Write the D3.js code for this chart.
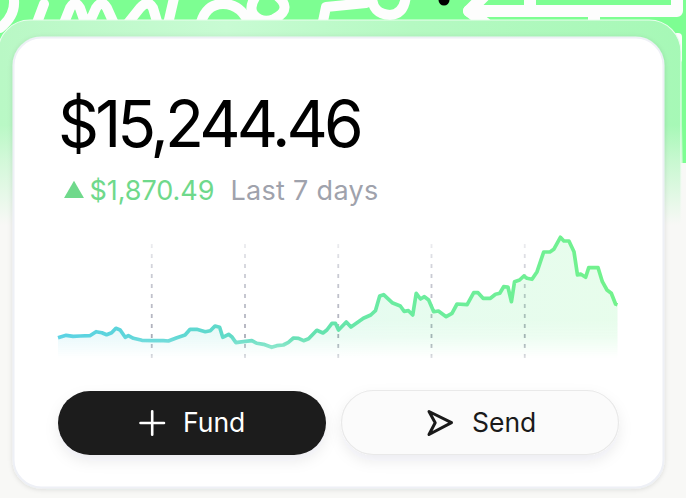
<!DOCTYPE html>
<html><head><meta charset="utf-8">
<script src="https://cdn.jsdelivr.net/npm/d3@7"></script>
<style>html,body{margin:0;padding:0;background:#f8f8f6;overflow:hidden}svg{display:block}text{font-family:Inter,"Noto Sans",sans-serif}</style>
</head><body><div id="chart"></div>
<script>
const hours=[0,2.1,3.9,5.7,8.2,9.8,11.3,12.5,13.8,14.9,16,17.3,18.1,19.4,21.6,24.5,27.1,28.4,30.6,32.7,34,35.7,37.9,39.2,40.4,41.6,42.4,43.9,44.7,45.8,47.7,49.9,51.2,52.9,55,56.3,58,59.3,60.6,61.9,63.2,64.5,66.6,68.2,69.2,70.5,71.4,72.2,74.2,75.4,78.6,80.5,81.7,82.8,83.8,86,88.1,89.1,90.2,91.3,92.2,93.3,94.3,95.4,96.7,97.9,99.9,101.4,102.7,105.3,107,108.1,109.4,111.3,112.6,113.7,114.7,115.8,116.7,117.5,118.8,119.9,120.7,122,123.3,125,126.6,127.6,129.3,130.2,131.5,132.8,133.7,134.5,135.8,136.6,139,140.1,141.3,142.4,143.5,144];
const balances=[13374,13510,13453,13470,13487,13714,13657,13544,13657,13907,13810,13397,13487,13340,13227,13204,13204,13187,13374,13527,13850,13850,13714,13771,14037,13963,13397,13567,13431,13091,13147,13204,13057,13000,12830,12921,12960,13113,13357,13340,13204,13317,13793,13640,13810,14190,14190,13810,14264,13980,14473,14660,14904,15737,15811,15357,15170,14870,14904,14660,15890,15567,15697,15510,14847,14887,14564,14757,15284,15244,15924,15924,15607,15607,15833,15890,16264,16247,15414,16548,16644,16870,16740,16684,17114,18230,18230,18384,19064,18854,18854,18248,16927,16984,16797,17341,17341,16547,16077,15890,15284,15244];
const dayTicks=[24,48,72,96,120];
const balanceLabel="$15,244.46", changeLabel="$1,870.49", periodLabel="Last 7 days";
const fundLabel="Fund", sendLabel="Send";

const W=686,H=498;
const svg=d3.select("#chart").append("svg").attr("width",W).attr("height",H).attr("viewBox",`0 0 ${W} ${H}`);
const defs=svg.append("defs");
const grad=(id,attrs,stops)=>{const g=defs.append("linearGradient").attr("id",id).attr("gradientUnits","userSpaceOnUse");
  Object.entries(attrs).forEach(([k,v])=>g.attr(k,v));
  stops.forEach(s=>g.append("stop").attr("offset",s[0]).attr("stop-color",s[1]).attr("stop-opacity",s[2]===undefined?1:s[2]));};
grad("rim",{x1:0,y1:0,x2:686,y2:0},[[0,"#b9f8c5"],[.33,"#c8fbd3"],[.6,"#b5f9c2"],[1,"#a6f8b6"]]);
grad("rimFade",{x1:0,y1:125,x2:0,y2:225},[[0,"#f8f8f6",0],[.35,"#f8f8f6",.4],[1,"#f8f8f6",1]]);
grad("lineCol",{x1:58,y1:0,x2:618,y2:0},[[0,"#5ad2e4"],[.25,"#5fd8d0"],[.42,"#62dfb4"],[.6,"#6becA0"],[1,"#72f28c"]]);
grad("gridCol",{x1:0,y1:-121,x2:0,y2:0},[[0,"#b4b6c2",.15],[.3,"#b4b6c2",.7],[.85,"#a8aab6",1],[1,"#a8aab6",.4]]);
grad("fadeMask",{x1:0,y1:320,x2:0,y2:358},[[0,"#fff"],[.45,"#bbb"],[1,"#000"]]);
defs.append("mask").attr("id","fade").attr("maskUnits","userSpaceOnUse").attr("x",0).attr("y",0).attr("width",W).attr("height",H)
  .append("rect").attr("width",W).attr("height",H).attr("fill","url(#fadeMask)");
const lm=defs.append("mask").attr("id","lineFade").attr("maskUnits","userSpaceOnUse").attr("x",0).attr("y",0).attr("width",W).attr("height",H);
grad("lineFadeG",{x1:0,y1:336,x2:0,y2:352},[[0,"#fff"],[1,"#999"]]);
lm.append("rect").attr("width",W).attr("height",H).attr("fill","url(#lineFadeG)");
const shadow=(id,dy,sd,op)=>{const f=defs.append("filter").attr("id",id).attr("x","-20%").attr("y","-40%").attr("width","140%").attr("height","200%");
  f.append("feDropShadow").attr("dx",0).attr("dy",dy).attr("stdDeviation",sd).attr("flood-color","#1a2a33").attr("flood-opacity",op);};
shadow("cardSh",1,2.5,.12);shadow("btnSh",6,7,.08);

// background
svg.append("rect").attr("width",W).attr("height",H).attr("fill","#f8f8f6");
svg.append("rect").attr("width",W).attr("height",163).attr("fill","#7dfe92");
const deco=svg.append("g").attr("fill","none").attr("stroke","#fdfdfd").attr("stroke-width",10).attr("stroke-linecap","round").attr("stroke-linejoin","round");
["M13,-6Q18,14 0,28",
 "M44,4L35,28",
 "M62,28L70,8Q75,-1 80,8L87,28M87,28L96,8Q102,-1 107,8L116,28",
 "M124,28L140,8Q148,-1 153,8L159,28",
 "M174,-2L168,24",
 "M200,26Q205,4 223,4Q242,4 250,26",
 "M272,-8Q296,8 274,19Q262,24 254,15Q248,8 256,-4",
 "M322,26L326,7L366,3",
 "M372,-4Q372,14 390,15Q405,14 406,-6"
].forEach(d=>deco.append("path").attr("d",d));
const deco2=svg.append("g").attr("fill","none").attr("stroke","#fdfdfd").attr("stroke-width",12).attr("stroke-linecap","round").attr("stroke-linejoin","round");
["M488,-8L469,11L486,24",
 "M469,11L677,11L677,-6",
 "M530,11L530,-6",
 "M594,11L594,26"
].forEach(d=>deco2.append("path").attr("d",d));
svg.append("circle").attr("cx",444).attr("cy",0).attr("r",5.5).attr("fill","#000");
svg.append("rect").attr("x",673).attr("y",33).attr("width",9).attr("height",30).attr("rx",4).attr("fill","#fdfdfd");

// frame + card
svg.append("rect").attr("x",-2).attr("y",20).attr("width",683).attr("height",480).attr("rx",32)
  .attr("fill","url(#rim)").attr("stroke","#e9fdee").attr("stroke-width",1.2);
svg.append("rect").attr("x",-3).attr("y",120).attr("width",686).attr("height",380).attr("fill","url(#rimFade)");
svg.append("rect").attr("x",13.5).attr("y",37.5).attr("width",650).attr("height",450).attr("rx",28)
  .attr("fill","#fff").attr("stroke","#eef0f6").attr("stroke-width",2).attr("filter","url(#cardSh)");

// header text
svg.append("text").attr("x",58).attr("y",147).attr("font-size",64).attr("font-weight",400).attr("letter-spacing",-3.9).attr("fill","#000").text(balanceLabel);
svg.append("path").attr("d",d3.symbol(d3.symbolTriangle,172)()).attr("transform","translate(74,192.3)").attr("fill","#6fd98b");
svg.append("text").attr("x",89.5).attr("y",200).attr("font-size",27).attr("letter-spacing",-.05).attr("fill","#6fd98b").text(changeLabel);
svg.append("text").attr("x",230.5).attr("y",200).attr("font-size",27).attr("letter-spacing",.3).attr("fill","#9fa2ac").text(periodLabel);

// chart
const x=d3.scaleLinear().domain([0,144]).range([58,617.5]);
const y=d3.scaleLinear().domain([13374,15244]).range([337.7,304.7]);
const bottom=357;
const pts=hours.map((h,i)=>[h,balances[i]]);
const axis=d3.axisBottom(x).tickValues(dayTicks).tickSize(-120).tickFormat("");
const ax=svg.append("g").attr("transform",`translate(0,${bottom+1})`).call(axis);
ax.select(".domain").remove();
ax.selectAll("line").attr("stroke","url(#gridCol)").attr("stroke-width",1.8).attr("stroke-dasharray","4 6");
svg.append("path").datum(pts).attr("mask","url(#fade)").attr("fill","url(#lineCol)").attr("fill-opacity",.17)
  .attr("d",d3.area().x(d=>x(d[0])).y0(bottom+1).y1(d=>y(d[1])));
svg.append("path").datum(pts).attr("mask","url(#lineFade)").attr("fill","none").attr("stroke","url(#lineCol)").attr("stroke-width",3.7).attr("stroke-linejoin","round")
  .attr("d",d3.line().x(d=>x(d[0])).y(d=>y(d[1])));

// buttons
svg.append("rect").attr("x",58).attr("y",391).attr("width",268).attr("height",64).attr("rx",32).attr("fill","#1a1a1a").attr("filter","url(#btnSh)");
svg.append("path").attr("d","M140.5,423H164M152.2,411.2V434.8").attr("stroke","#fff").attr("stroke-width",2.6).attr("stroke-linecap","round").attr("fill","none");
svg.append("text").attr("x",183).attr("y",432).attr("font-size",26.5).attr("fill","#fff").text(fundLabel);
svg.append("rect").attr("x",341.5).attr("y",390.5).attr("width",277).attr("height",64).attr("rx",32).attr("fill","#fbfbfb").attr("stroke","#e9e9e9").attr("stroke-width",1.2).attr("filter","url(#btnSh)");
svg.append("path").attr("d","M429,411.5L451.5,422.6L429,434.5L435.2,422.8Z").attr("stroke","#1a1a1a").attr("stroke-width",3).attr("stroke-linejoin","round").attr("fill","none");
svg.append("text").attr("x",472).attr("y",432).attr("font-size",26.5).attr("fill","#1a1a1a").text(sendLabel);
</script></body></html>
